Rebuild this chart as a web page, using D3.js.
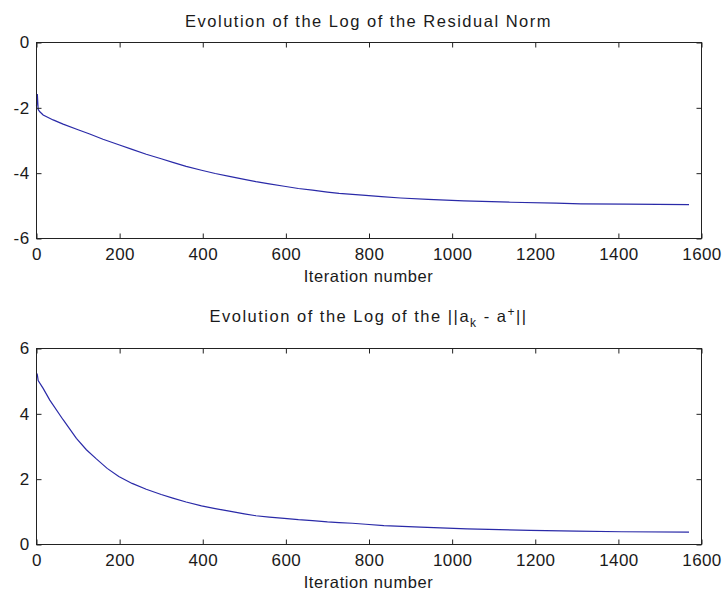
<!DOCTYPE html>
<html>
<head>
<meta charset="utf-8">
<script src="https://cdn.jsdelivr.net/npm/d3@7"></script>
<style>
  body { margin: 0; background: #fff; }
  svg text { font-family: "Liberation Sans", Arial, sans-serif; fill: #1a1a1a; }
</style>
</head>
<body>
<div id="chart"></div>
<script>
// values
const xTicks = [0, 200, 400, 600, 800, 1000, 1200, 1400, 1600];
const yTicksTop = [0, -2, -4, -6];
const yTicksBottom = [0, 2, 4, 6];

const residualIter = [0, 2, 4, 8, 16, 40, 64, 100, 128, 160, 198, 230, 264, 300, 328, 360, 397, 430, 464, 500,
  528, 560, 596, 630, 664, 700, 728, 760, 792, 830, 876, 942, 1028, 1141, 1250, 1310, 1420, 1570];
const residualLog = [-1.95, -1.58, -2.05, -2.12, -2.22, -2.37, -2.50, -2.67, -2.80, -2.96, -3.13, -3.27, -3.42,
  -3.56, -3.67, -3.79, -3.91, -4.01, -4.10, -4.19, -4.26, -4.33, -4.40, -4.47, -4.52, -4.58, -4.62, -4.65,
  -4.68, -4.72, -4.76, -4.80, -4.85, -4.89, -4.92, -4.94, -4.95, -4.96];

const errIter = [0, 2, 4, 16, 32, 64, 96, 120, 144, 170, 198, 230, 264, 300, 328, 360, 397, 430, 464, 500,
  528, 560, 596, 630, 664, 700, 728, 760, 792, 836, 924, 1036, 1188, 1300, 1408, 1570];
const errLog = [5.25, 5.2, 5.02, 4.78, 4.42, 3.82, 3.25, 2.90, 2.62, 2.33, 2.08, 1.87, 1.69, 1.53, 1.42, 1.30,
  1.18, 1.10, 1.02, 0.94, 0.88, 0.84, 0.80, 0.76, 0.73, 0.69, 0.67, 0.65, 0.62, 0.58, 0.53, 0.48, 0.43, 0.41,
  0.39, 0.38];

const W = 725, H = 600;
const left = 36.5, plotW = 665, plotH = 196;
const lineColor = "#2a2aa8";
const fmt = d => String(d); // plain hyphen minus, no thousands separator

const svg = d3.select("#chart").append("svg")
  .attr("width", W).attr("height", H);

function drawPanel(top, yDomain, yTicks, xs, ys, titleFn, xlabelY) {
  const g = svg.append("g").attr("transform", `translate(${left},${top})`);
  const x = d3.scaleLinear().domain([0, 1600]).range([0, plotW]);
  const y = d3.scaleLinear().domain(yDomain).range([plotH, 0]);

  // data line
  const pts = xs.map((d, i) => [d, ys[i]]);
  g.append("path")
    .datum(pts)
    .attr("fill", "none")
    .attr("stroke", lineColor)
    .attr("stroke-width", 1.2)
    .attr("d", d3.line().x(d => x(d[0])).y(d => y(d[1])));

  // axes with inward ticks on all four sides
  const bottom = g.append("g").attr("transform", `translate(0,${plotH})`)
    .call(d3.axisBottom(x).tickValues(xTicks).tickSize(-5).tickSizeOuter(0).tickPadding(6).tickFormat(fmt));
  g.append("g")
    .call(d3.axisTop(x).tickValues(xTicks).tickSize(-5).tickSizeOuter(0).tickFormat(""));
  g.append("g")
    .call(d3.axisLeft(y).tickValues(yTicks).tickSize(-5).tickSizeOuter(0).tickPadding(7).tickFormat(fmt));
  g.append("g").attr("transform", `translate(${plotW},0)`)
    .call(d3.axisRight(y).tickValues(yTicks).tickSize(-5).tickSizeOuter(0).tickFormat(""));

  g.selectAll(".domain").remove();
  g.selectAll(".tick line").attr("stroke", "#222");
  g.selectAll(".tick text")
    .style("font-size", "17px")
    .style("letter-spacing", "0.4px")
    .attr("fill", "#1a1a1a");
  bottom.selectAll(".tick text").attr("dy", "0.9em");

  g.append("rect")
    .attr("width", plotW).attr("height", plotH)
    .attr("fill", "none").attr("stroke", "#222").attr("stroke-width", 1);

  // title
  const t = g.append("text")
    .attr("x", plotW / 2 - 0.5)
    .attr("text-anchor", "middle")
    .style("font-size", "16.5px")
    .style("letter-spacing", "1.5px");
  titleFn(t);

  g.append("text")
    .attr("x", plotW / 2 - 0.5)
    .attr("y", xlabelY)
    .attr("text-anchor", "middle")
    .style("font-size", "16.5px")
    .style("letter-spacing", "0.6px")
    .text("Iteration number");
}

drawPanel(42.5, [-6, 0], yTicksTop, residualIter, residualLog, t => {
  t.attr("y", -16).text("Evolution of the Log of the Residual Norm");
}, 239);

drawPanel(348.5, [0, 6], yTicksBottom, errIter, errLog, t => {
  t.attr("y", -27);
  t.append("tspan").text("Evolution of the Log of the ||a");
  t.append("tspan").attr("dy", 5).style("font-size", "12px").text("k");
  t.append("tspan").attr("dy", -5).text(" - a");
  t.append("tspan").attr("dy", -6).style("font-size", "12px").text("+");
  t.append("tspan").attr("dy", 6).text("||");
}, 239);
</script>
</body>
</html>
